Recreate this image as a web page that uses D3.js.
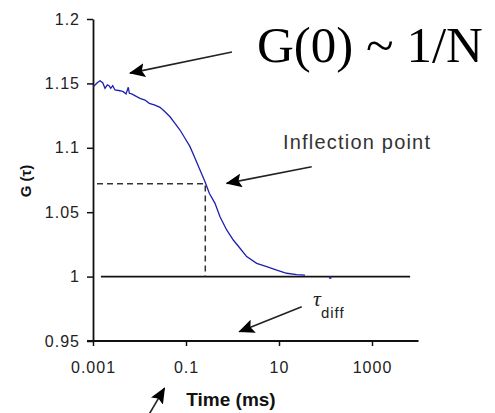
<!DOCTYPE html>
<html>
<head>
<meta charset="utf-8">
<script src="https://cdn.jsdelivr.net/npm/d3@7"></script>
<style>
  body { margin: 0; background: #fff; }
  svg { display: block; }
</style>
</head>
<body>
<svg id="chart"></svg>
<script>
// autocorrelation curve (tau in ms, G(tau))
const tau = [0.001014, 0.001236, 0.001416, 0.001618, 0.001811, 0.002032, 0.002244, 0.002404,
  0.002655, 0.002972, 0.003811, 0.004487, 0.005129, 0.005741, 0.006039, 0.006792, 0.00871,
  0.01026, 0.01312, 0.01626, 0.02153, 0.02761, 0.03532, 0.04529, 0.05794, 0.0743, 0.09506,
  0.1219, 0.1563, 0.2, 0.2564, 0.317, 0.4207, 0.5383, 0.7499, 1.04, 1.449, 2.018, 3.311,
  5.433, 8.933, 14.66, 24.04, 36.22];
const gTau = [1.1474, 1.1505, 1.1521, 1.1505, 1.1462, 1.1488, 1.148, 1.1462,
  1.1482, 1.1449, 1.1443, 1.1436, 1.1418, 1.147, 1.1423, 1.1418, 1.1397,
  1.1384, 1.1371, 1.1345, 1.1332, 1.1314, 1.128, 1.1241, 1.119, 1.1138, 1.1074,
  1.1009, 1.0918, 1.0828, 1.0737, 1.0647, 1.0569, 1.0465, 1.0362, 1.0284, 1.022, 1.0155, 1.0103,
  1.0077, 1.0051, 1.0026, 1.0015, 1.0012];
// stray point past the end of the curve
const strayPoint = [125, 0.9995];

const xTicks = [0.001, 0.1, 10, 1000];
const xTickLabels = ["0.001", "0.1", "10", "1000"];
const yTicks = [0.95, 1, 1.05, 1.1, 1.15, 1.2];
const yTickLabels = ["0.95", "1", "1.05", "1.1", "1.15", "1.2"];

const baseline = { from: 0.00148, to: 6600, g: 1 };
const inflection = { tau: 0.26, g: 1.072, startTau: 0.00122 };

// arrows: [tailTau, tailG, tipTau, tipG]
const arrows = [
  [0.975, 1.1744, 0.00625, 1.158],
  [50.5, 1.0853, 0.75, 1.0724],
  [30.8, 0.9766, 1.40, 0.9572],
  [0.0152, 0.8916, 0.0345, 0.9134]
];

const width = 495, height = 413;
const svg = d3.select("#chart").attr("width", width).attr("height", height);

const x = d3.scaleLog().domain([1e-3, 1e4]).range([93, 418.5]);
const y = d3.scaleLinear().domain([0.95, 1.2]).range([341, 19]);

const defs = svg.append("defs");
defs.append("marker")
  .attr("id", "head")
  .attr("markerUnits", "userSpaceOnUse")
  .attr("viewBox", "0 0 16 14")
  .attr("refX", 15).attr("refY", 7)
  .attr("markerWidth", 16).attr("markerHeight", 14)
  .attr("orient", "auto")
  .append("path")
  .attr("d", "M0,0 L16,7 L0,14 L3,7 Z")
  .attr("fill", "#000");

// axes
const yAxis = svg.append("g")
  .attr("transform", "translate(93,0)")
  .call(d3.axisLeft(y).tickValues(yTicks).tickSize(6).tickSizeOuter(0).tickPadding(7)
    .tickFormat((d, i) => yTickLabels[i]));
const xAxis = svg.append("g")
  .attr("transform", "translate(0,341)")
  .call(d3.axisBottom(x).tickValues(xTicks).tickSize(5).tickSizeOuter(0).tickPadding(16)
    .tickFormat((d, i) => xTickLabels[i]));

[yAxis, xAxis].forEach(a => {
  a.select(".domain").attr("stroke", "#111").attr("stroke-width", 1.8);
  a.selectAll(".tick line").attr("stroke", "#111").attr("stroke-width", 1.5);
  a.selectAll(".tick text")
    .attr("fill", "#222")
    .style("font-family", "'Liberation Sans', Arial, sans-serif")
    .style("font-size", "16px")
    .style("letter-spacing", "1px");
});
// domain of x axis reaches back to the y axis
xAxis.select(".domain").attr("d", `M${x(1e-3) - 6},0H${x(1e4)}`);

// baseline G = 1
svg.append("line")
  .attr("x1", x(baseline.from)).attr("x2", x(baseline.to))
  .attr("y1", y(baseline.g)).attr("y2", y(baseline.g))
  .attr("stroke", "#111").attr("stroke-width", 1.6);

// dashed guides to the inflection point
svg.append("path")
  .attr("d", `M${x(inflection.startTau)},${y(inflection.g)}H${x(inflection.tau)}V${y(1)}`)
  .attr("fill", "none")
  .attr("stroke", "#333").attr("stroke-width", 1.5)
  .attr("stroke-dasharray", "6,4");

// curve
const pts = tau.map((t, i) => [t, gTau[i]]);
svg.append("path")
  .datum(pts)
  .attr("d", d3.line().x(d => x(d[0])).y(d => y(d[1])))
  .attr("fill", "none")
  .attr("stroke", "#1f1fb0")
  .attr("stroke-width", 1.3);
svg.append("rect")
  .attr("x", x(strayPoint[0]) - 1).attr("y", y(strayPoint[1]) - 1)
  .attr("width", 2.5).attr("height", 2.5)
  .attr("fill", "#1f1fb0");

// arrows
svg.selectAll(".arrow")
  .data(arrows)
  .enter().append("line")
  .attr("class", "arrow")
  .attr("x1", d => x(d[0])).attr("y1", d => y(d[1]))
  .attr("x2", d => x(d[2])).attr("y2", d => y(d[3]))
  .attr("stroke", "#222").attr("stroke-width", 1.6)
  .attr("marker-end", "url(#head)");

// labels
svg.append("text")
  .attr("x", 257).attr("y", 62)
  .style("font-family", "'Liberation Serif', 'Times New Roman', serif")
  .style("font-size", "51px")
  .attr("fill", "#000")
  .text("G(0) ~ 1/N");

svg.append("text")
  .attr("x", 283).attr("y", 149)
  .style("font-family", "'Liberation Sans', Arial, sans-serif")
  .style("font-size", "20px")
  .style("letter-spacing", "1.2px")
  .attr("fill", "#333")
  .text("Inflection point");

const tauLabel = svg.append("text")
  .attr("x", 313).attr("y", 306)
  .attr("fill", "#222");
tauLabel.append("tspan")
  .style("font-family", "'Liberation Serif', 'Times New Roman', serif")
  .style("font-style", "italic")
  .style("font-size", "22px")
  .text("τ");
tauLabel.append("tspan")
  .attr("dy", 12)
  .style("font-family", "'Liberation Sans', Arial, sans-serif")
  .style("font-size", "15px")
  .style("letter-spacing", "1px")
  .text("diff");

svg.append("text")
  .attr("x", 231).attr("y", 406)
  .attr("text-anchor", "middle")
  .style("font-family", "'Liberation Sans', Arial, sans-serif")
  .style("font-size", "19px")
  .style("font-weight", "bold")
  .attr("fill", "#111")
  .text("Time (ms)");

svg.append("text")
  .attr("transform", "translate(31,181) rotate(-90)")
  .attr("text-anchor", "middle")
  .style("font-family", "'Liberation Sans', Arial, sans-serif")
  .style("font-size", "15px")
  .style("font-weight", "bold")
  .attr("fill", "#111")
  .text("G (τ)");
</script>
</body>
</html>
